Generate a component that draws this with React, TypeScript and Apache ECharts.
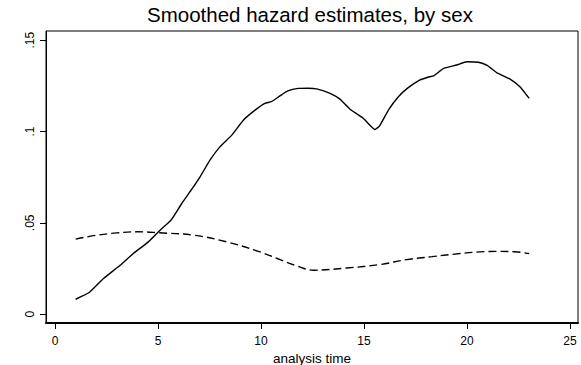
import React, { useEffect, useRef } from "react";
import * as echarts from "echarts";

const titleText = "Smoothed hazard estimates, by sex";
const xAxisName = "analysis time";
const xTicks = [0, 5, 10, 15, 20, 25];
const yTicks = [0, 0.05, 0.1, 0.15];

// solid curve
const solidT = [1, 1.67, 2.35, 3.16, 3.8, 4.53, 5.1, 5.63, 6.15, 6.63, 7.04, 7.52, 8.0, 8.58, 9.14, 9.71, 10.19, 10.5, 10.92, 11.3, 11.8, 12.3, 12.7, 13.35, 13.83, 14.32, 14.95, 15.53, 15.74, 16.2, 16.67, 17.1, 17.72, 18.1, 18.4, 18.85, 19.5, 20.0, 20.55, 21.0, 21.44, 22.09, 22.57, 23.02];
const solidV = [0.0082, 0.012, 0.0195, 0.0268, 0.0332, 0.0396, 0.046, 0.0515, 0.0606, 0.0683, 0.0752, 0.0843, 0.0916, 0.098, 0.1062, 0.1117, 0.1154, 0.1163, 0.1195, 0.1222, 0.1236, 0.1237, 0.1233, 0.1209, 0.1177, 0.1122, 0.1074, 0.1011, 0.1028, 0.112, 0.119, 0.1236, 0.1282, 0.1297, 0.1306, 0.1344, 0.1364, 0.1382, 0.1379, 0.136, 0.1322, 0.1287, 0.1245, 0.1181];

// dashed curve
const dashT = [1, 2, 3, 4, 5, 6.7, 8.33, 9.95, 10.92, 11.73, 12.54, 14.16, 15.78, 17.07, 18.3, 19.66, 20.63, 21.44, 22.3, 23.02];
const dashV = [0.0411, 0.0432, 0.0445, 0.0451, 0.0446, 0.0433, 0.0396, 0.0341, 0.0299, 0.0265, 0.0241, 0.0253, 0.0272, 0.0299, 0.0315, 0.0332, 0.0341, 0.0344, 0.0342, 0.0332];

const fmtY = (v: number) => (v === 0 ? "0" : String(Number(v.toFixed(2))).replace(/^0\./, "."));

export default function App() {
  const ref = useRef<HTMLDivElement>(null);
  useEffect(() => {
    if (!ref.current) return;
    const chart = echarts.init(ref.current, null, { renderer: "svg" });
    const font = "'Liberation Sans', Arial, sans-serif";
    chart.setOption({
      animation: false,
      backgroundColor: "#fff",
      textStyle: { fontFamily: font, color: "#000" },
      title: {
        text: titleText,
        left: 147,
        top: 4,
        padding: 0,
        textStyle: { fontFamily: font, fontSize: 20.5, fontWeight: "normal", color: "#000" },
      },
      grid: {
        left: 46,
        right: 3,
        top: 31,
        bottom: 42,
        containLabel: false,
        outerBoundsMode: "none",
        show: true,
        borderColor: "#000",
        borderWidth: 1,
      },
      xAxis: {
        type: "value",
        min: -0.44,
        max: 25.39,
        name: xAxisName,
        nameLocation: "middle",
        nameGap: 24,
        nameTextStyle: { fontFamily: font, fontSize: 13.5, color: "#000" },
        axisLine: { show: true, onZero: false, lineStyle: { color: "#000", width: 2 } },
        axisTick: { show: true, length: 6, customValues: xTicks, lineStyle: { color: "#000", width: 1 } },
        axisLabel: { customValues: xTicks, margin: 12, fontSize: 12, color: "#000", fontFamily: font },
        splitLine: { show: false },
      },
      yAxis: {
        type: "value",
        min: -0.0048,
        max: 0.155,
        axisLine: { show: true, onZero: false, lineStyle: { color: "#000", width: 1 } },
        axisTick: { show: true, length: 6, customValues: yTicks, lineStyle: { color: "#000", width: 1 } },
        axisLabel: {
          customValues: yTicks,
          rotate: 90,
          margin: 10,
          fontSize: 12,
          color: "#000",
          fontFamily: font,
          formatter: (v: number) => fmtY(v),
        },
        splitLine: { show: false },
      },
      series: [
        {
          type: "line",
          data: solidT.map((t, i) => [t, solidV[i]]),
          showSymbol: false,
          smooth: 0.15,
          lineStyle: { color: "#000", width: 1.4 },
        },
        {
          type: "line",
          data: dashT.map((t, i) => [t, dashV[i]]),
          showSymbol: false,
          smooth: 0.4,
          lineStyle: { color: "#000", width: 1.4, type: [8, 4] },
        },
      ],
    });
    return () => chart.dispose();
  }, []);
  return (
    <div
      ref={ref}
      style={{ position: "fixed", left: 0, top: 0, width: 581, height: 365, background: "#fff" }}
    />
  );
}
